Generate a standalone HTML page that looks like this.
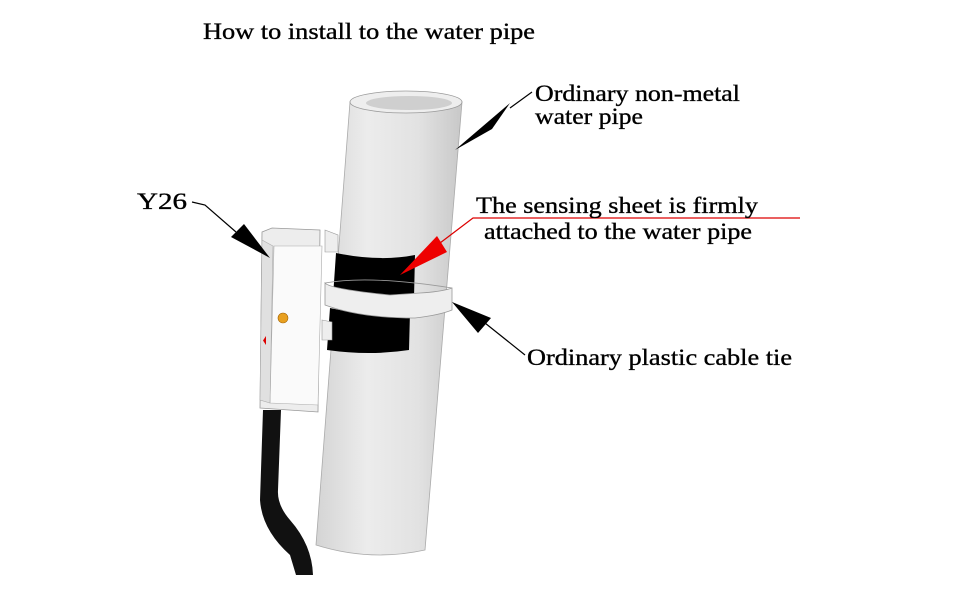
<!DOCTYPE html>
<html><head><style>
html,body{margin:0;padding:0;background:#fff;width:970px;height:600px;overflow:hidden}
text{font-family:"Liberation Serif",serif;fill:#000;stroke:#000;stroke-width:0.35}
</style></head><body>
<svg width="970" height="600" viewBox="0 0 970 600">
<defs>
<linearGradient id="pg" x1="0" x2="1" y1="0" y2="0">
<stop offset="0" stop-color="#d4d4d4"/><stop offset="0.35" stop-color="#ececec"/><stop offset="0.7" stop-color="#e2e2e2"/><stop offset="1" stop-color="#c8c8c8"/>
</linearGradient>
</defs>
<text x="203" y="39" font-size="23" textLength="332" lengthAdjust="spacingAndGlyphs">How to install to the water pipe</text>
<!-- pipe -->
<path d="M350,102 L316,545 Q370,562 425,550 L462,102 Z" fill="url(#pg)" stroke="#aaa" stroke-width="0.8"/>
<ellipse cx="406" cy="102" rx="56" ry="11" fill="#eee" stroke="#999" stroke-width="0.8"/>
<ellipse cx="409" cy="103" rx="43" ry="7" fill="#cfcfcf"/>
<!-- bands -->
<path d="M336,253 Q380,262 415,255 L414,298 Q375,305 333,297 Z" fill="#000"/>
<path d="M330,308 Q375,318 410,312 L409,350 Q370,356 327,350 Z" fill="#000"/>
<path d="M325,283 Q330,289 390,295 L420,293 Q440,292 452,288 L452,310 Q440,315 415,318 Q360,318 325,305 Z" fill="#eee" stroke="#999" stroke-width="0.8"/>
<path d="M325,283 Q370,275 452,288" fill="none" stroke="#999" stroke-width="0.8"/>
<!-- device -->
<path d="M325,230 L338,235 L338,252 L325,252 Z" fill="#eee" stroke="#999" stroke-width="0.6"/>
<path d="M322,320 L332,322 L332,340 L322,340 Z" fill="#eee" stroke="#999" stroke-width="0.6"/>
<path d="M262,232 L272,228 L320,230 L318,412 L260,408 Z" fill="#ededed" stroke="#999" stroke-width="0.8"/>
<path d="M274,246 L322,246 L318,405 L270,403 Z" fill="#fafafa" stroke="#aaa" stroke-width="0.6"/>
<path d="M262,240 L273,246 L270,403 L260,400 Z" fill="#e0e0e0" stroke="#aaa" stroke-width="0.6"/>
<circle cx="283" cy="318" r="5" fill="#e8a020" stroke="#a06000" stroke-width="0.6"/>
<path d="M266,336 l0,9 l-3,-4.5z" fill="#d00"/>
<path d="M263,410 L260,500 Q262,530 290,555 L296,575 L313,575 Q312,545 290,520 Q277,505 278,490 L281,410 Z" fill="#111"/>
<!-- arrows -->
<path d="M532,92 L510,108" stroke="#000" stroke-width="1.2"/>
<path d="M455,150 L510,103 L492,129 Z" fill="#000"/>
<text x="535" y="101" font-size="23" textLength="205" lengthAdjust="spacingAndGlyphs">Ordinary non-metal</text>
<text x="535" y="124" font-size="23" textLength="108" lengthAdjust="spacingAndGlyphs">water pipe</text>
<path d="M800,218 L473,218 L440,243" stroke="#d00" stroke-width="1.2" fill="none"/>
<path d="M400,275 L437,236 L447,252 Z" fill="#e00"/>
<text x="476" y="213" font-size="23" textLength="282" lengthAdjust="spacingAndGlyphs">The sensing sheet is firmly</text>
<text x="484" y="239" font-size="23" textLength="268" lengthAdjust="spacingAndGlyphs">attached to the water pipe</text>
<text x="137" y="209" font-size="23" textLength="50" lengthAdjust="spacingAndGlyphs">Y26</text>
<path d="M192,202 L205,205 L236,232" stroke="#000" stroke-width="1.2" fill="none"/>
<path d="M270,258 L231,237 L244,224 Z" fill="#000"/>
<path d="M525,355 L485,323" stroke="#000" stroke-width="1.2"/>
<path d="M452,302 L491,318 L478,333 Z" fill="#000"/>
<text x="527" y="365" font-size="23" textLength="265" lengthAdjust="spacingAndGlyphs">Ordinary plastic cable tie</text>
</svg>
</body></html>
